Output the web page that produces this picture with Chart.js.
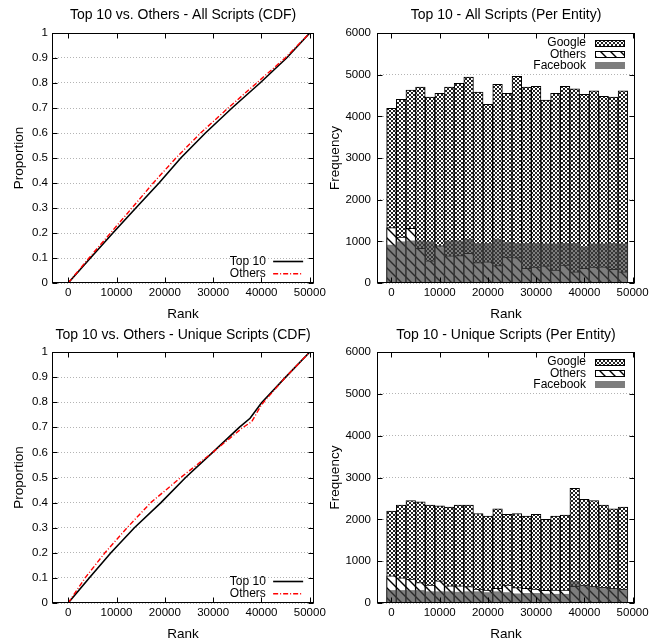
<!DOCTYPE html>
<html>
<head>
<meta charset="utf-8">
<script src="https://cdn.jsdelivr.net/npm/chart.js@4"></script>
<style>
  html, body { margin: 0; padding: 0; background: #fff; overflow: hidden; }
  #wrap { position: relative; width: 658px; height: 643px; }
  canvas { position: absolute; }
</style>
</head>
<body>
<div id="wrap">
  <canvas id="cdfAll" width="329" height="322" style="left:0;top:0"></canvas>
  <canvas id="histAll" width="329" height="322" style="left:329px;top:0"></canvas>
  <canvas id="cdfUniq" width="329" height="323" style="left:0;top:320px"></canvas>
  <canvas id="histUniq" width="329" height="323" style="left:329px;top:320px"></canvas>
</div>
<script>
// tick labels on the rank axis
const rankTicks = [0, 10000, 20000, 30000, 40000, 50000];

// histogram bins (rank)
const rankBins = [0, 2000, 4000, 6000, 8000, 10000, 12000, 14000, 16000, 18000, 20000, 22000, 24000,
  26000, 28000, 30000, 32000, 34000, 36000, 38000, 40000, 42000, 44000, 46000, 48000];

// All scripts, per entity
const allGoogle = [4190, 4410, 4630, 4700, 4460, 4550, 4700, 4790, 4940, 4580, 4290, 4770, 4550,
  4960, 4700, 4720, 4390, 4550, 4720, 4660, 4530, 4610, 4480, 4460, 4610];
const allOthers = [1330, 1100, 1310, 830, 530, 890, 650, 660, 710, 490, 510, 420, 620,
  610, 350, 380, 410, 310, 430, 270, 350, 380, 390, 330, 270];
const allFacebook = [910, 990, 1010, 1010, 990, 890, 1010, 1010, 1050, 950, 950, 1050, 970,
  950, 950, 950, 940, 940, 950, 950, 870, 940, 940, 950, 940];

// Unique scripts, per entity
const uniqGoogle = [2200, 2340, 2450, 2420, 2340, 2320, 2290, 2340, 2340, 2140, 2080, 2250, 2120,
  2140, 2080, 2120, 2000, 2080, 2100, 2740, 2480, 2450, 2340, 2250, 2290];
const uniqOthers = [650, 600, 570, 490, 430, 530, 410, 410, 390, 330, 310, 350, 430,
  370, 350, 330, 300, 310, 310, 400, 425, 400, 375, 350, 325];
const uniqFacebook = [300, 300, 300, 300, 270, 270, 270, 260, 270, 270, 250, 270, 250,
  220, 230, 230, 215, 210, 210, 520, 430, 400, 375, 350, 330];

// CDF, all scripts
const allTop10Rank = [0, 4600, 9250, 14000, 18800, 23300, 28400, 33900, 39700, 45200, 50000];
const allTop10Prop = [0, 0.1, 0.2, 0.3, 0.4, 0.5, 0.6, 0.7, 0.8, 0.9, 1];
const allOthersRank = [0, 4300, 8770, 13200, 17600, 22300, 27400, 33100, 39000, 44900, 50000];
const allOthersProp = [0, 0.1, 0.2, 0.3, 0.4, 0.5, 0.6, 0.7, 0.8, 0.9, 1];

// CDF, unique scripts
const uniqTop10Rank = [0, 4350, 8840, 13700, 19200, 24300, 29900, 35400, 37640, 40020, 45000, 50000];
const uniqTop10Prop = [0, 0.1, 0.2, 0.3, 0.4, 0.5, 0.6, 0.7, 0.736, 0.798, 0.9, 1];
const uniqOthersRank = [0, 3500, 7600, 12200, 17100, 23300, 29900, 36200, 37980, 40000, 45000, 50000];
const uniqOthersProp = [0, 0.1, 0.2, 0.3, 0.4, 0.5, 0.6, 0.7, 0.722, 0.79, 0.9, 1];

const FONT = '"Liberation Sans", Arial, Helvetica, sans-serif';
Chart.defaults.font.family = FONT;
Chart.defaults.color = '#000';

const pts = (xs, ys) => xs.map((x, i) => ({ x, y: ys[i] }));
const plain = v => String(Number(Number(v).toFixed(2)));

function crossPattern(ctx) {
  const c = document.createElement('canvas');
  c.width = 4; c.height = 4;
  const g = c.getContext('2d');
  g.fillStyle = '#222';
  g.fillRect(0, 0, 4, 4);
  g.fillStyle = '#fff';
  g.fillRect(0, 0, 2, 2);
  g.fillRect(2, 2, 2, 2);
  return ctx.createPattern(c, 'repeat');
}

function diagPattern(ctx) {
  const c = document.createElement('canvas');
  c.width = 10; c.height = 10;
  const g = c.getContext('2d');
  g.fillStyle = '#fff';
  g.fillRect(0, 0, 10, 10);
  g.strokeStyle = '#000';
  g.lineWidth = 1.4;
  g.beginPath();
  g.moveTo(-2, -2); g.lineTo(12, 12);
  g.moveTo(-2, 8); g.lineTo(2, 12);
  g.moveTo(8, -2); g.lineTo(12, 2);
  g.stroke();
  return ctx.createPattern(c, 'repeat');
}

// gnuplot style box with inward ticks
const gpFrame = {
  id: 'gpFrame',
  afterDatasetsDraw(chart) {
    const { ctx, chartArea: a, scales } = chart;
    const l = Math.round(a.left) + 0.5, r = Math.round(a.right) - 0.5;
    const t = Math.round(a.top) + 0.5, b = Math.round(a.bottom) - 0.5;
    ctx.save();
    ctx.strokeStyle = '#000';
    ctx.lineWidth = 1;
    ctx.beginPath();
    scales.y.ticks.forEach(tk => {
      const y = Math.round(scales.y.getPixelForValue(tk.value)) + 0.5;
      ctx.moveTo(l, y); ctx.lineTo(l + 5, y);
      ctx.moveTo(r, y); ctx.lineTo(r - 5, y);
    });
    scales.x.ticks.forEach(tk => {
      const x = Math.round(scales.x.getPixelForValue(tk.value)) + 0.5;
      if (x < l || x > r) return;
      ctx.moveTo(x, b); ctx.lineTo(x, b - 5);
      ctx.moveTo(x, t); ctx.lineTo(x, t + 5);
    });
    ctx.stroke();
    ctx.strokeRect(l, t, r - l, b - t);
    ctx.restore();
  }
};

// title centred over the plot box
const gpTitle = {
  id: 'gpTitle',
  afterDraw(chart, args, opts) {
    const { ctx, chartArea: a } = chart;
    ctx.save();
    ctx.font = '14px ' + FONT;
    ctx.fillStyle = '#000';
    ctx.textAlign = 'center';
    ctx.textBaseline = 'middle';
    ctx.fillText(opts.text, (a.left + a.right) / 2, opts.y);
    ctx.restore();
  }
};

// key: text right aligned, sample on the right
const gpLegend = {
  id: 'gpLegend',
  afterDatasetsDraw(chart, args, opts) {
    const { ctx, chartArea: a } = chart;
    const x1 = a.right - opts.right, x0 = x1 - 30;
    ctx.save();
    ctx.font = '12px ' + FONT;
    ctx.textAlign = 'right';
    ctx.textBaseline = 'middle';
    chart.data.datasets.forEach((ds, i) => {
      const y = (opts.fromBottom ? a.bottom : a.top) + opts.first + i * opts.step;
      ctx.fillStyle = '#000';
      ctx.fillText(ds.label, x0 - opts.gap, y);
      if (opts.kind === 'line') {
        ctx.strokeStyle = ds.borderColor;
        ctx.lineWidth = ds.borderWidth;
        ctx.setLineDash(ds.borderDash || []);
        ctx.beginPath();
        ctx.moveTo(x0, y); ctx.lineTo(x1, y);
        ctx.stroke();
        ctx.setLineDash([]);
      } else {
        const yy = Math.round(y - 3.5);
        ctx.fillStyle = '#fff';
        ctx.fillRect(x0, yy, 30, 7);
        ctx.fillStyle = ds.backgroundColor;
        ctx.fillRect(x0, yy, 30, 7);
        if (ds.borderWidth) {
          ctx.strokeStyle = ds.borderColor;
          ctx.lineWidth = 1;
          ctx.strokeRect(Math.round(x0) + 0.5, yy + 0.5, 29, 6);
        }
      }
    });
    ctx.restore();
  }
};

function rankAxis(min, max, axisH, padB) {
  return {
    type: 'linear', min, max, offset: false,
    afterBuildTicks: s => { s.ticks = rankTicks.map(v => ({ value: v })); },
    afterFit: s => { s.height = axisH; },
    ticks: { autoSkip: false, maxRotation: 0, padding: 3, font: { size: 11.5 }, callback: plain },
    grid: { display: false, drawTicks: false, offset: false },
    border: { display: false },
    title: { display: true, text: 'Rank', font: { size: 13.5, lineHeight: 1 }, padding: { top: 0, bottom: padB } }
  };
}

function valueAxis(text, max, step, width, tickPad, titlePad) {
  return {
    min: 0, max,
    afterFit: s => { s.width = width; },
    ticks: { stepSize: step, padding: tickPad, font: { size: 11.5 }, callback: plain },
    grid: { color: '#b4b4b4', lineWidth: 1, drawTicks: false },
    border: { display: false, dash: [1, 2] },
    title: { display: true, text, font: { size: 13.5, lineHeight: 1 }, padding: { top: titlePad, bottom: 0 } }
  };
}

function makeCdf(id, title, t10r, t10p, othr, othp, row) {
  new Chart(document.getElementById(id), {
    type: 'scatter',
    data: {
      datasets: [
        { label: 'Top 10', data: pts(t10r, t10p), showLine: true, borderColor: '#000', borderWidth: 1.6,
          pointRadius: 0, tension: 0, order: 1 },
        { label: 'Others', data: pts(othr, othp), showLine: true, borderColor: '#ff0000', borderWidth: 1.4,
          borderDash: [5, 2, 1, 2], pointRadius: 0, tension: 0, order: 0 }
      ]
    },
    options: {
      animation: false, responsive: false, devicePixelRatio: 1,
      layout: { padding: { top: row.top, right: 13, left: 0, bottom: 0 } },
      plugins: {
        legend: { display: false }, tooltip: { enabled: false },
        gpTitle: { text: title, y: 15.5 },
        gpLegend: { kind: 'line', fromBottom: true, first: -21.5, step: 12.3, right: 11, gap: 7.3 }
      },
      scales: {
        x: rankAxis(-3350, 50900, row.axisH, row.padB),
        y: valueAxis('Proportion', 1, 0.1, 52, 4, 13)
      }
    },
    plugins: [gpFrame, gpTitle, gpLegend]
  });
}

function makeHist(id, title, google, others, facebook, row) {
  const el = document.getElementById(id);
  const ctx = el.getContext('2d');
  new Chart(el, {
    type: 'bar',
    data: {
      datasets: [
        { label: 'Google', data: pts(rankBins, google), backgroundColor: crossPattern(ctx),
          borderColor: '#000', borderWidth: 1, order: 3 },
        { label: 'Others', data: pts(rankBins, others), backgroundColor: diagPattern(ctx),
          borderColor: '#000', borderWidth: 1, order: 2 },
        { label: 'Facebook', data: pts(rankBins, facebook), backgroundColor: 'rgba(64,64,64,0.68)',
          borderWidth: 0, order: 1 }
      ]
    },
    options: {
      animation: false, responsive: false, devicePixelRatio: 1,
      datasets: { bar: { grouped: false, barPercentage: 1, categoryPercentage: 1 } },
      layout: { padding: { top: row.top, right: 23, left: 0, bottom: 0 } },
      plugins: {
        legend: { display: false }, tooltip: { enabled: false },
        gpTitle: { text: title, y: 15.5 },
        gpLegend: { kind: 'box', fromBottom: false, first: 10, step: 11.3, right: 10, gap: 9 }
      },
      scales: {
        x: rankAxis(-3000, 50500, row.axisH, row.padB),
        y: valueAxis('Frequency', 6000, 1000, 48, 6, 0)
      }
    },
    plugins: [gpFrame, gpTitle, gpLegend]
  });
}

const topRow = { top: 33, axisH: 39, padB: 1 };
const bottomRow = { top: 32, axisH: 40, padB: 2 };

makeCdf('cdfAll', 'Top 10 vs. Others - All Scripts (CDF)',
  allTop10Rank, allTop10Prop, allOthersRank, allOthersProp, topRow);
makeHist('histAll', 'Top 10 - All Scripts (Per Entity)', allGoogle, allOthers, allFacebook, topRow);
makeCdf('cdfUniq', 'Top 10 vs. Others - Unique Scripts (CDF)',
  uniqTop10Rank, uniqTop10Prop, uniqOthersRank, uniqOthersProp, bottomRow);
makeHist('histUniq', 'Top 10 - Unique Scripts (Per Entity)', uniqGoogle, uniqOthers, uniqFacebook, bottomRow);
</script>
</body>
</html>
